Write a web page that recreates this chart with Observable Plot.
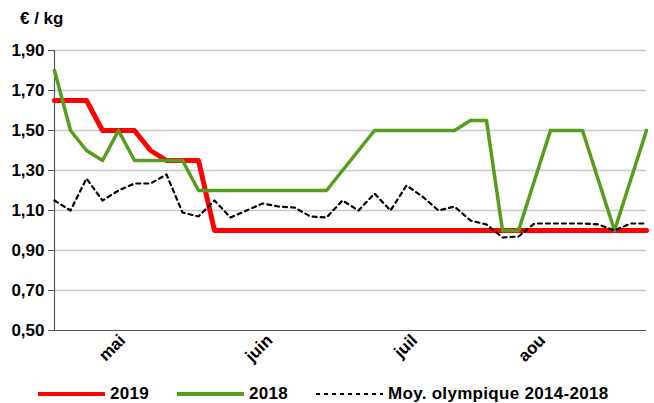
<!DOCTYPE html>
<html>
<head>
<meta charset="utf-8">
<script src="https://cdn.jsdelivr.net/npm/d3@7"></script>
<script src="https://cdn.jsdelivr.net/npm/@observablehq/plot@0.6"></script>
<style>
  html, body { margin: 0; padding: 0; background: #fff; }
</style>
</head>
<body>
<div id="chart"></div>
<script>
// Weekly observations (index 0..37)
const weeks = [0,1,2,3,4,5,6,7,8,9,10,11,12,13,14,15,16,17,18,19,20,21,22,23,24,25,26,27,28,29,30,31,32,33,34,35,36,37];

const series2019 = [1.65,1.65,1.65,1.50,1.50,1.50,1.40,1.35,1.35,1.35,
                    1.00,1.00,1.00,1.00,1.00,1.00,1.00,1.00,1.00,1.00,
                    1.00,1.00,1.00,1.00,1.00,1.00,1.00,1.00,1.00,1.00,
                    1.00,1.00,1.00,1.00,1.00,1.00,1.00,1.00];

const series2018 = [1.80,1.50,1.40,1.35,1.50,1.35,1.35,1.35,1.35,1.20,
                    1.20,1.20,1.20,1.20,1.20,1.20,1.20,1.20,1.30,1.40,
                    1.50,1.50,1.50,1.50,1.50,1.50,1.55,1.55,1.00,1.00,
                    1.25,1.50,1.50,1.50,1.25,1.00,1.25,1.50];

const seriesMoy = [1.15,1.10,1.26,1.15,1.20,1.235,1.235,1.28,1.09,1.07,
                   1.15,1.065,1.10,1.135,1.12,1.115,1.07,1.065,1.15,1.10,
                   1.185,1.10,1.225,1.17,1.10,1.12,1.05,1.03,0.965,0.97,
                   1.035,1.035,1.035,1.035,1.03,1.00,1.035,1.035];

const yTicks = [0.50,0.70,0.90,1.10,1.30,1.50,1.70,1.90];
const monthTicks = [4.25,13.45,22.5,30.5];
const monthLabels = ["mai","juin","juil","aou"];

const seriesNames = ["2019","2018","Moy. olympique 2014-2018"];
const seriesColors = ["#ff0000","#579d1c","#000000"];

const rows = weeks.map((w, i) => ({
  w, v2019: series2019[i], v2018: series2018[i], vMoy: seriesMoy[i]
}));

const FONT = "'Liberation Sans', Arial, sans-serif";
const widths = [5, 3.5, 2.2];
const DASH = "4,4";

const plot = Plot.plot({
  width: 654,
  height: 403,
  marginTop: 50,
  marginBottom: 73,
  marginLeft: 54,
  marginRight: 8,
  style: {fontFamily: FONT, fontSize: "17px", fontWeight: "bold", color: "#000", background: "#fff", overflow: "visible"},
  x: {domain: [0, 37]},
  y: {domain: [0.5, 1.9]},
  marks: [
    Plot.gridY(yTicks.slice(1), {stroke: "#c8c8c8", strokeOpacity: 1, strokeWidth: 1.3}),
    Plot.axisY(yTicks, {
      tickFormat: d => d.toFixed(2).replace(".", ","),
      tickSize: 6, tickPadding: 4, stroke: "#555", label: null,
      fontWeight: "bold", fontSize: 17
    }),
    Plot.axisX(monthTicks, {
      tickFormat: d => monthLabels[monthTicks.indexOf(d)],
      tickRotate: -45, tickSize: 0, tickPadding: 7, label: null,
      fontWeight: "bold", fontSize: 17
    }),
    Plot.ruleX([0], {stroke: "#555", strokeWidth: 1.2}),
    Plot.ruleY([0.5], {stroke: "#555", strokeWidth: 1.2}),
    Plot.line(rows, {x: "w", y: "v2019", stroke: seriesColors[0], strokeWidth: widths[0]}),
    Plot.line(rows, {x: "w", y: "v2018", stroke: seriesColors[1], strokeWidth: widths[1]}),
    Plot.line(rows, {x: "w", y: "vMoy", stroke: seriesColors[2], strokeWidth: widths[2], strokeDasharray: DASH})
  ]
});

const svg = d3.select(plot);

// unit title
svg.append("text")
  .attr("x", 20).attr("y", 24)
  .attr("text-anchor", "start")
  .attr("font-family", FONT).attr("font-size", 17).attr("font-weight", "bold")
  .attr("fill", "#000")
  .text("€ / kg");

// legend
const legendY = 394;
seriesNames.forEach((name, i) => {
  const x0 = 38 + i * 139;
  svg.append("line")
    .attr("x1", x0).attr("x2", x0 + 67)
    .attr("y1", legendY).attr("y2", legendY)
    .attr("stroke", seriesColors[i])
    .attr("stroke-width", i === 2 ? 2 : 4)
    .attr("stroke-dasharray", i === 2 ? "4,4" : null);
  svg.append("text")
    .attr("x", x0 + 72).attr("y", legendY + 5)
    .attr("text-anchor", "start")
    .attr("font-family", FONT).attr("font-size", 17).attr("font-weight", "bold")
    .attr("letter-spacing", "0.3px")
    .attr("fill", "#000")
    .text(name);
});

document.getElementById("chart").appendChild(plot);
</script>
</body>
</html>
